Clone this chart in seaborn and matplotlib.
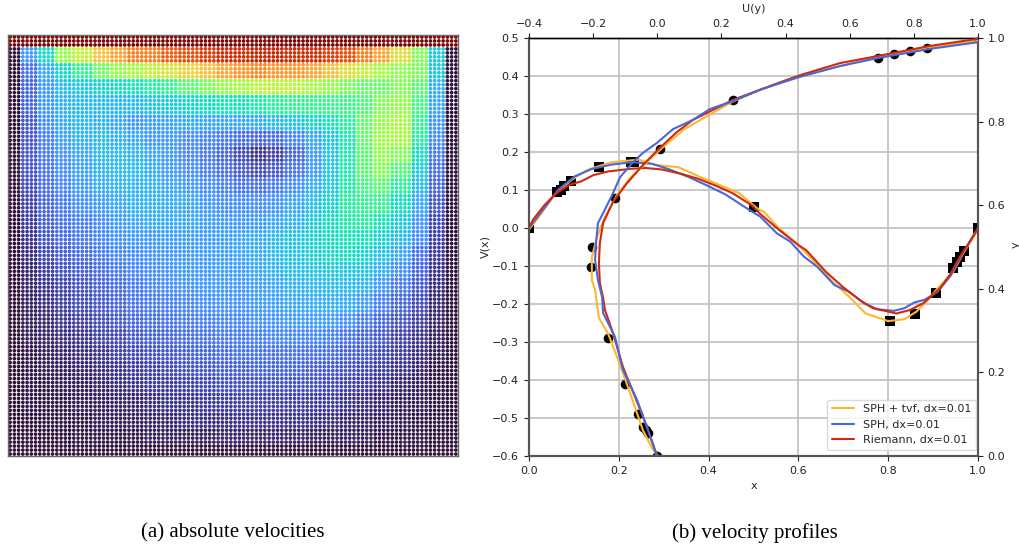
import matplotlib
matplotlib.use("Agg")
import matplotlib.pyplot as plt
import numpy as np
import pandas as pd
import seaborn as sns

# left panel: speed in percent of the lid velocity,
# one value per cell of a 24x24 grid over the cavity, top row first.
# the single particles cannot be read, so they sit on a regular lattice
speed_table = [
    [20, 32, 48, 55, 65, 70, 75, 75, 80, 82, 85, 88, 88, 90, 90, 88, 88, 85, 82, 75, 70, 60, 46, 28],
    [14, 23, 31, 38, 44, 48, 50, 54, 58, 62, 65, 70, 72, 74, 72, 72, 70, 66, 60, 55, 50, 47, 45, 28],
    [12, 20, 26, 28, 30, 31, 33, 36, 38, 42, 45, 48, 50, 53, 54, 53, 50, 48, 45, 43, 43, 46, 42, 24],
    [12, 20, 24, 25, 25, 25, 25, 27, 28, 30, 32, 33, 33, 35, 37, 38, 38, 39, 39, 41, 46, 48, 40, 22],
    [10, 18, 23, 25, 24, 22, 20, 21, 22, 23, 22, 22, 22, 23, 25, 27, 30, 33, 37, 43, 48, 50, 38, 20],
    [10, 16, 21, 24, 25, 24, 22, 20, 20, 18, 17, 15, 13, 12, 13, 17, 22, 28, 35, 43, 49, 50, 36, 18],
    [10, 15, 19, 22, 25, 25, 24, 22, 20, 17, 15, 12, 8, 5, 7, 12, 20, 27, 35, 42, 48, 46, 32, 15],
    [9, 14, 18, 21, 24, 25, 25, 23, 20, 18, 16, 13, 10, 8, 10, 14, 20, 27, 35, 42, 46, 41, 28, 13],
    [8, 13, 17, 20, 23, 24, 24, 24, 22, 20, 18, 16, 14, 13, 15, 18, 23, 28, 35, 40, 42, 37, 25, 12],
    [7, 12, 15, 18, 20, 22, 24, 24, 23, 22, 20, 18, 18, 18, 19, 22, 26, 30, 36, 38, 38, 32, 22, 10],
    [6, 11, 14, 16, 18, 20, 22, 23, 23, 22, 21, 20, 20, 20, 22, 24, 28, 32, 35, 36, 33, 28, 19, 8],
    [5, 10, 13, 15, 17, 19, 20, 20, 21, 21, 21, 21, 22, 23, 25, 27, 29, 32, 33, 33, 30, 25, 18, 7],
    [4, 8, 11, 13, 15, 17, 18, 19, 20, 20, 21, 21, 22, 23, 25, 27, 29, 31, 32, 30, 27, 22, 14, 6],
    [3, 6, 9, 11, 13, 15, 17, 18, 19, 20, 20, 21, 21, 22, 24, 26, 27, 28, 28, 27, 24, 18, 12, 5],
    [3, 5, 7, 9, 11, 13, 15, 17, 18, 19, 20, 20, 20, 21, 22, 24, 25, 26, 26, 24, 20, 15, 10, 4],
    [2, 4, 6, 8, 10, 12, 14, 15, 16, 17, 18, 19, 19, 20, 21, 22, 23, 23, 23, 20, 16, 12, 8, 3],
    [2, 3, 5, 6, 8, 10, 12, 13, 14, 15, 16, 17, 17, 18, 19, 20, 20, 20, 18, 15, 12, 9, 6, 3],
    [2, 3, 4, 5, 7, 8, 10, 11, 12, 13, 14, 15, 15, 16, 17, 17, 17, 16, 14, 12, 10, 7, 5, 2],
    [1, 2, 3, 4, 5, 7, 8, 9, 10, 11, 12, 13, 14, 14, 14, 14, 14, 13, 11, 10, 8, 6, 4, 2],
    [1, 2, 2, 3, 4, 5, 6, 7, 8, 9, 10, 11, 11, 12, 12, 12, 11, 10, 9, 8, 6, 5, 3, 1],
    [1, 1, 2, 2, 3, 4, 5, 6, 6, 7, 8, 9, 9, 9, 9, 9, 9, 8, 7, 6, 5, 3, 2, 1],
    [1, 1, 1, 2, 2, 3, 3, 4, 5, 5, 6, 6, 7, 7, 7, 7, 6, 6, 5, 4, 3, 2, 2, 1],
    [0, 1, 1, 1, 2, 2, 2, 3, 3, 4, 4, 4, 5, 5, 5, 5, 4, 4, 3, 3, 2, 2, 1, 1],
    [0, 0, 0, 1, 1, 1, 1, 2, 2, 2, 2, 3, 3, 3, 3, 3, 2, 2, 2, 2, 1, 1, 1, 0],
]

# right panel: V(x)
v_x_tvf = [0, .02, .057, .095, .132, .184, .244, .281, .333, .378, .415, .468, .512, .523, .557, .6, .639, .676, .713, .75, .8, .836, .863, .885, .907, .945, .967, 1]
v_tvf = [-.004, .026, .088, .127, .154, .173, .18, .166, .16, .136, .118, .092, .048, .043, -.001, -.045, -.093, -.141, -.181, -.225, -.245, -.24, -.22, -.194, -.163, -.115, -.067, -.005]
v_x_sph = [0, .02, .043, .065, .102, .139, .184, .229, .274, .311, .356, .4, .438, .49, .515, .552, .582, .612, .642, .68, .713, .746, .776, .813, .836, .858, .881, .91, .94, .97, 1]
v_sph = [0, .031, .066, .101, .136, .155, .167, .173, .169, .155, .134, .11, .088, .048, .03, -.014, -.036, -.075, -.102, -.15, -.168, -.198, -.214, -.218, -.211, -.196, -.189, -.168, -.124, -.058, 0]
v_x_rie = [0, .009, .035, .061, .091, .117, .143, .177, .229, .259, .296, .341, .378, .415, .453, .497, .515, .557, .6, .617, .661, .698, .736, .766, .8, .818, .848, .878, .915, .937, .96, .982, 1]
v_rie = [0, .022, .061, .092, .114, .123, .139, .149, .156, .158, .154, .142, .129, .112, .092, .059, .037, -.005, -.045, -.058, -.115, -.154, -.189, -.211, -.22, -.225, -.216, -.198, -.159, -.124, -.075, -.036, 0]

# right panel: U(y)
u_tvf = [1, .85, .688, .445, .383, .32, .233, .155, .08, .071, .018, -.032, -.085, -.126, -.163, -.188, -.204, -.204, -.194, -.182, -.154, -.122, -.085, -.045, -.013, .002]
u_y_tvf = [.993, .978, .955, .909, .893, .876, .847, .813, .78, .773, .739, .703, .665, .624, .572, .524, .476, .421, .397, .33, .294, .23, .151, .062, .014, 0]
u_sph = [1, .85, .688, .57, .445, .383, .32, .236, .164, .111, .049, -.001, -.045, -.076, -.116, -.141, -.169, -.185, -.191, -.194, -.185, -.172, -.169, -.132, -.107, -.063, -.029, -.001]
u_y_sph = [.99, .974, .952, .933, .907, .892, .876, .849, .83, .804, .782, .749, .725, .703, .667, .624, .581, .557, .51, .469, .421, .38, .342, .285, .206, .134, .062, 0]
u_rie = [1, .85, .688, .57, .445, .383, .32, .236, .111, .061, .008, -.045, -.094, -.138, -.169, -.179, -.182, -.179, -.169, -.163, -.138, -.107, -.069, -.032, -.007, .002]
u_y_rie = [.998, .981, .957, .94, .911, .894, .876, .852, .804, .775, .737, .696, .653, .608, .557, .51, .462, .414, .378, .349, .294, .213, .141, .069, .014, 0]

# reference points (black markers)
ref_y = [1, .9766, .9688, .9609, .9531, .8516, .7344, .6172, .5, .4531, .2813, .1719, .1016, .0703, .0625, .0547, 0]
ref_u = [1, .841, .788, .738, .688, .236, .008, -.132, -.204, -.207, -.154, -.101, -.06, -.045, -.035, -.03, 0]
ref_x = [1, .9688, .9609, .9531, .9453, .9063, .8594, .8047, .5, .2344, .2266, .1563, .0938, .0781, .0703, .0625, 0]
ref_v = [0, -.06, -.075, -.09, -.105, -.17, -.225, -.245, .055, .175, .175, .16, .123, .11, .1, .095, 0]

YELLOW = "#fbb731"
BLUE = "#4a67d6"
RED = "#cf2a0e"
W, H = 1019, 547

sns.set_style("white")
plt.rcParams["font.family"] = ["DejaVu Sans"]
plt.rcParams["font.size"] = 8
plt.rcParams["xtick.bottom"] = True
plt.rcParams["ytick.left"] = True

fig = plt.figure(figsize=(W / 100, H / 100), dpi=100)


def axes_px(left, top, right, bottom):
    return fig.add_axes([left / W, 1 - bottom / H, (right - left) / W, (bottom - top) / H])


#%% particles
ax_p = axes_px(8, 35, 458, 456)

centres = -0.025 + 0.01 * np.arange(106)
grid_x, grid_y = np.meshgrid(centres, centres)
grid_x, grid_y = grid_x.ravel(), grid_y.ravel()
table = np.array(speed_table) / 100
inside = (grid_x > 0) & (grid_x < 1) & (grid_y > 0) & (grid_y < 1)
speed = np.zeros(grid_x.size)
speed[grid_y > 1] = 1.0
speed[inside] = table[((1 - grid_y[inside]) * 24).astype(int), (grid_x[inside] * 24).astype(int)]
df_p = pd.DataFrame({"x": grid_x, "y": grid_y, "speed": speed})

sns.scatterplot(data=df_p, x="x", y="y", hue="speed", palette="turbo", hue_norm=(0, 1),
                s=7, linewidth=0, legend=False, ax=ax_p)
ax_p.set(xlim=(-0.03, 1.03), ylim=(-0.03, 1.03), xlabel="", ylabel="", xticks=[], yticks=[])
for spine in ax_p.spines.values():
    spine.set_color("#666666")
    spine.set_linewidth(1)

#%% profiles
ax_v = axes_px(529, 38, 978, 456)
ax_u = axes_px(529, 38, 978, 456)
ax_u.patch.set_alpha(0)

sns.scatterplot(x=ref_x, y=ref_v, marker="s", color="black", s=50, linewidth=0, ax=ax_v, zorder=2)
sns.lineplot(x=v_x_tvf, y=v_tvf, sort=False, estimator=None, color=YELLOW, lw=1.5, label="SPH + tvf, dx=0.01", ax=ax_v, zorder=3)
sns.lineplot(x=v_x_sph, y=v_sph, sort=False, estimator=None, color=BLUE, lw=1.5, label="SPH, dx=0.01", ax=ax_v, zorder=3)
sns.lineplot(x=v_x_rie, y=v_rie, sort=False, estimator=None, color=RED, lw=1.5, label="Riemann, dx=0.01", ax=ax_v, zorder=3)

sns.scatterplot(x=ref_u, y=ref_y, marker="o", color="black", s=48, linewidth=0, ax=ax_u, zorder=2)
sns.lineplot(x=u_tvf, y=u_y_tvf, sort=False, estimator=None, color=YELLOW, lw=1.5, ax=ax_u, zorder=3)
sns.lineplot(x=u_rie, y=u_y_rie, sort=False, estimator=None, color=RED, lw=1.5, ax=ax_u, zorder=3)
sns.lineplot(x=u_sph, y=u_y_sph, sort=False, estimator=None, color=BLUE, lw=1.5, ax=ax_u, zorder=3)

ax_v.set(xlim=(0, 1), ylim=(-0.6, 0.5), xlabel="x", ylabel="V(x)")
ax_v.set_xticks(np.arange(0, 1.01, 0.2))
ax_v.set_yticks(np.arange(-0.6, 0.51, 0.1))
ax_v.grid(True, color="#c0c0c0", lw=1.2)
ax_v.tick_params(length=3.5, width=0.8, colors="#222222", labelsize=8)
ax_v.xaxis.labelpad = 4
ax_v.yaxis.labelpad = 1

ax_u.set(xlim=(-0.4, 1), ylim=(0, 1), xlabel="U(y)", ylabel="")
ax_u.xaxis.set_label_position("top")
ax_u.xaxis.tick_top()
ax_u.yaxis.tick_right()
ax_u.set_xticks(np.arange(-0.4, 1.01, 0.2))
ax_u.set_yticks(np.arange(0, 1.01, 0.2))
ax_u.tick_params(length=3.5, width=0.8, colors="#222222", labelsize=8)
ax_u.tick_params(axis="x", pad=3)
ax_u.xaxis.labelpad = 5
ax_u.grid(False)

for side, lw, col in [("left", 1.5, "#555555"), ("bottom", 1.5, "#555555"), ("right", 1.5, "#555555"), ("top", 1, "black")]:
    ax_u.spines[side].set(linewidth=lw, color=col)
    ax_v.spines[side].set(linewidth=lw, color=col)

handles, labels = ax_v.get_legend_handles_labels()
ax_v.get_legend().remove()
ax_u.legend(handles, labels, loc="lower right", fontsize=8, frameon=True, framealpha=0.8,
            edgecolor="#d0d0d0", facecolor="white", bbox_to_anchor=(0.995, 0.015), borderaxespad=0)

# the file is cut at the right edge, so the tail of the y is lost
fig.text(1015.5 / W, 1 - 245 / H, "y", rotation=90, ha="center", va="center", fontsize=8)

caption = dict(family="Liberation Serif", fontsize=15, ha="center", va="center", color="black")
fig.text(233 / W, 1 - 533 / H, "(a) absolute velocities", **caption)
fig.text(755 / W, 1 - 533 / H, "(b) velocity profiles", **caption)

fig.savefig("out.png", dpi=100)
